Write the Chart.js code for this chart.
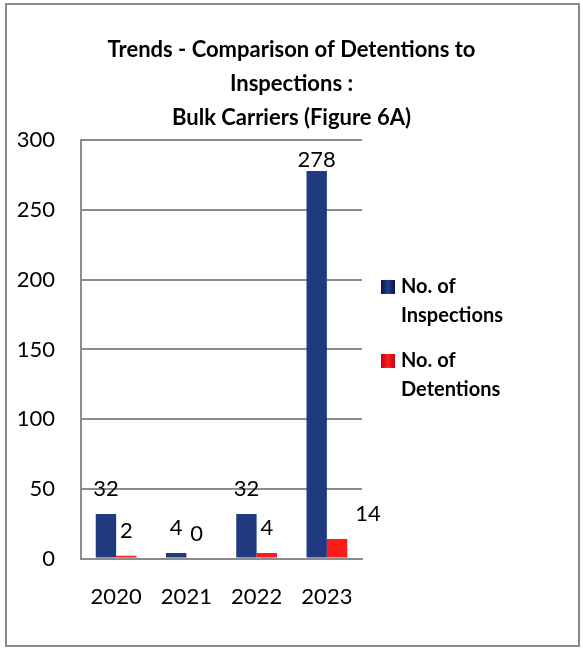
<!DOCTYPE html>
<html>
<head>
<meta charset="utf-8">
<script src="https://cdn.jsdelivr.net/npm/chart.js@4.4.0/dist/chart.umd.min.js"></script>
<style>
    html, body { margin: 0; padding: 0; background: #fff; }
    #frame {
        position: absolute;
        left: 5px; top: 3px;
        width: 571px; height: 640px;
        border: 2px solid #8a8a8a;
    }
    #wrap { position: absolute; left: 0; top: 0; width: 583px; height: 648px; }
</style>
</head>
<body>
<div id="frame"></div>
<div id="wrap"><canvas id="detentionChart" width="583" height="648"></canvas></div>
<script>
const years = ['2020', '2021', '2022', '2023'];
const inspections = [32, 4, 32, 278];
const detentions = [2, 0, 4, 14];
const seriesNames = ['No. of Inspections', 'No. of Detentions'];
const titleLines = ['Trends - Comparison of Detentions to', 'Inspections :', 'Bulk Carriers (Figure 6A)'];

const FONT = 'Lato, "Open Sans", sans-serif';

/**
 * Degradado horizontal para simular las barras 3D
 */
function barGradient(ctx, dark, light){
    const chart = ctx.chart;
    const el = ctx.element;
    if (!chart.chartArea || !el || el.width === undefined) {
        return light;
    }
    const left = el.x - el.width / 2;
    const right = el.x + el.width / 2;
    const g = chart.ctx.createLinearGradient(left, 0, right, 0);
    g.addColorStop(0, dark);
    g.addColorStop(0.45, light);
    g.addColorStop(1, dark);
    return g;
}

// Etiquetas de valor encima de cada barra
const valueLabels = {
    id: 'valueLabels',
    afterDatasetsDraw(chart){
        const ctx = chart.ctx;
        const area = chart.chartArea;
        ctx.save();
        ctx.font = '22px ' + FONT;
        ctx.fillStyle = '#000';
        ctx.textAlign = 'center';
        ctx.textBaseline = 'middle';
        chart.data.datasets.forEach((ds, di) => {
            const meta = chart.getDatasetMeta(di);
            meta.data.forEach((bar, i) => {
                const text = String(ds.data[i]);
                const w = ctx.measureText(text).width;
                let x = bar.x;
                let y = Math.max(bar.y - 25, area.top + 20);
                // si choca con la barra vecina de la izquierda, se desplaza a la derecha
                if (di > 0) {
                    const prev = chart.getDatasetMeta(di - 1).data[i];
                    const prevRight = prev.x + prev.width / 2;
                    if (x - w / 2 < prevRight && prev.y < y) {
                        x = bar.x + bar.width / 2 + 8 + w / 2;
                    }
                }
                ctx.fillText(text, x, y);
            });
        });
        ctx.restore();
    }
};

// Leyenda a la derecha con texto partido en varias líneas
const sideLegend = {
    id: 'sideLegend',
    afterDraw(chart){
        const ctx = chart.ctx;
        const area = chart.chartArea;
        const colors = [['#081540', '#23408a'], ['#c80010', '#ff2020']];
        const markerX = area.right + 19;
        const textX = markerX + 20;
        const maxWidth = 150;
        const lineH = 29;
        const itemGap = 16;
        ctx.save();
        ctx.font = 'bold 20px ' + FONT;
        ctx.textBaseline = 'middle';
        ctx.textAlign = 'left';

        const items = seriesNames.map(name => {
            const words = name.split(' ');
            const lines = [];
            let cur = '';
            words.forEach(word => {
                const test = cur ? cur + ' ' + word : word;
                if (ctx.measureText(test).width > maxWidth && cur) {
                    lines.push(cur);
                    cur = word;
                } else {
                    cur = test;
                }
            });
            lines.push(cur);
            return lines;
        });
        let total = 0;
        items.forEach(l => total += l.length * lineH);
        total += itemGap * (items.length - 1);
        let y = (area.top + area.bottom) / 2 - total / 2 - 11;

        items.forEach((lines, i) => {
            const firstY = y + lineH / 2;
            const g = ctx.createLinearGradient(markerX, 0, markerX + 14, 0);
            g.addColorStop(0, colors[i][0]);
            g.addColorStop(0.5, colors[i][1]);
            g.addColorStop(1, colors[i][0]);
            ctx.fillStyle = g;
            ctx.fillRect(markerX, firstY - 7, 14, 14);
            ctx.fillStyle = '#000';
            lines.forEach((line, k) => {
                ctx.fillText(line, textX, firstY + k * lineH);
            });
            y += lines.length * lineH + itemGap;
        });
        ctx.restore();
    }
};

const ctx = document.getElementById('detentionChart').getContext('2d');
const detentionChart = new Chart(ctx, {
    type: 'bar',
    data: {
        labels: years,
        datasets: [{
            label: seriesNames[0],
            data: inspections,
            backgroundColor: c => barGradient(c, '#081540', '#1f3a80'),
            borderWidth: 0
        }, {
            label: seriesNames[1],
            data: detentions,
            backgroundColor: c => barGradient(c, '#cc0010', '#ff1a1a'),
            borderWidth: 0
        }]
    },
    options: {
        responsive: false,
        animation: false,
        layout: { padding: { top: 0, bottom: 13, left: 0, right: 0 } },
        datasets: {
            bar: { categoryPercentage: 0.58, barPercentage: 1.0 }
        },
        plugins: {
            legend: { display: false },
            tooltip: { enabled: false },
            title: {
                display: true,
                text: titleLines,
                color: '#000',
                font: { family: FONT, size: 22, weight: 'bold', lineHeight: 1.55 },
                padding: { top: 33, bottom: 5 }
            }
        },
        scales: {
            x: {
                grid: { display: false, drawTicks: false },
                border: { color: '#8c8c8c', width: 2 },
                ticks: { color: '#000', font: { family: FONT, size: 22 }, padding: 25 }
            },
            y: {
                min: 0,
                max: 300,
                afterFit: scale => { scale.width = 81; },
                grid: { color: '#8c8c8c', lineWidth: 2, drawTicks: false },
                border: { color: '#8c8c8c', width: 2 },
                ticks: { stepSize: 50, color: '#000', font: { family: FONT, size: 22 }, padding: 26 }
            },
            side: {
                position: 'right',
                min: 0,
                max: 1,
                afterFit: scale => { scale.width = 221; },
                grid: { display: false },
                border: { display: false },
                ticks: { display: false }
            }
        }
    },
    plugins: [valueLabels, sideLegend]
});
</script>
</body>
</html>
